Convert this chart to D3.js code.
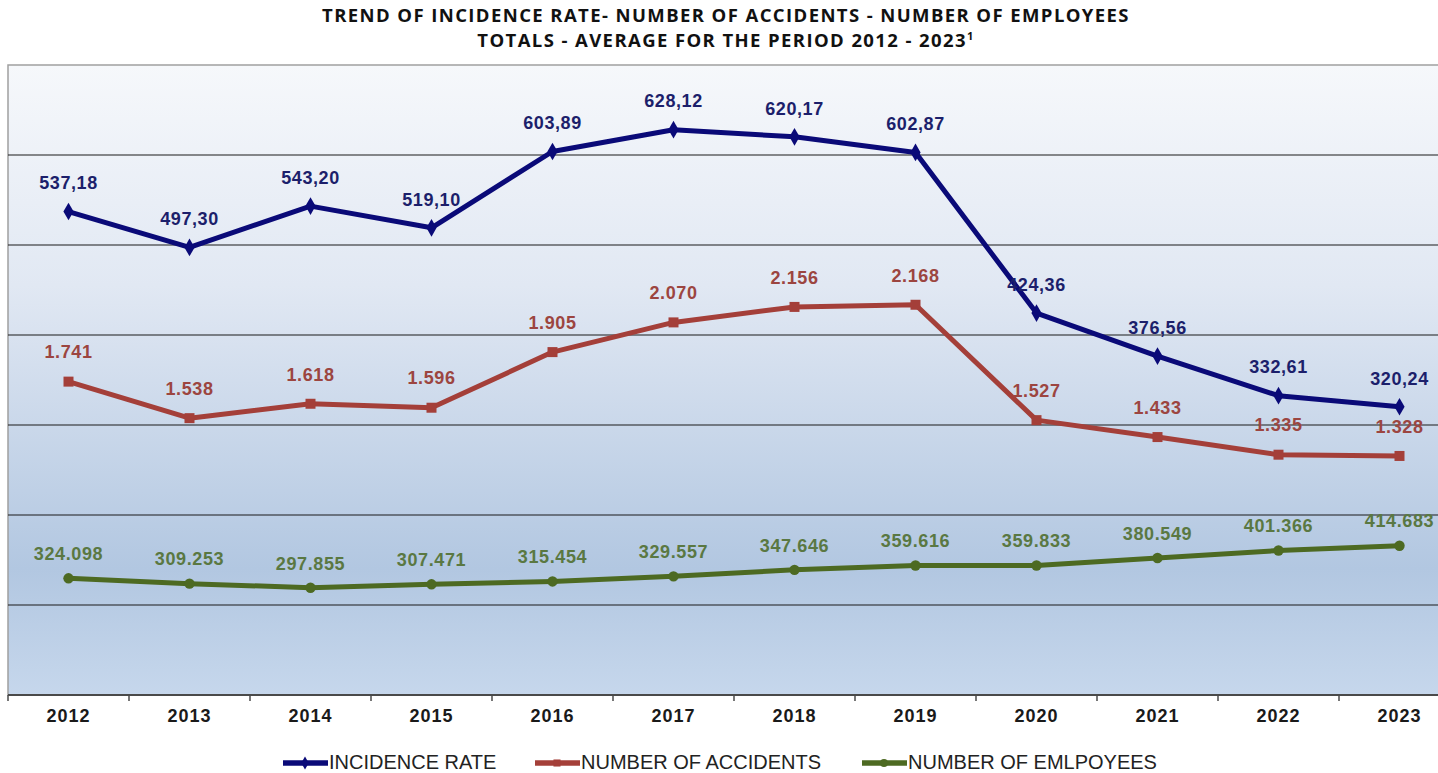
<!DOCTYPE html>
<html>
<head>
<meta charset="utf-8">
<script src="https://cdn.jsdelivr.net/npm/d3@7"></script>
<style>
  html, body { margin: 0; padding: 0; background: #ffffff; overflow: hidden; }
  svg { display: block; }
</style>
</head>
<body>
<svg id="chart" width="1438" height="773"></svg>
<script>
// ---- Data ----
const years = ["2012","2013","2014","2015","2016","2017","2018","2019","2020","2021","2022","2023"];
const incidenceRate = [537.18, 497.30, 543.20, 519.10, 603.89, 628.12, 620.17, 602.87, 424.36, 376.56, 332.61, 320.24];
const accidents = [1741, 1538, 1618, 1596, 1905, 2070, 2156, 2168, 1527, 1433, 1335, 1328];
const employees = [324098, 309253, 297855, 307471, 315454, 329557, 347646, 359616, 359833, 380549, 401366, 414683];
const gridValues = [100, 200, 300, 400, 500, 600];
const titleLines = ["TREND OF INCIDENCE RATE- NUMBER OF ACCIDENTS - NUMBER OF EMPLOYEES", "TOTALS - AVERAGE FOR THE PERIOD 2012 - 2023"];
const legendLabels = ["INCIDENCE RATE", "NUMBER OF ACCIDENTS", "NUMBER OF EMLPOYEES"];

// ---- Layout ----
const svg = d3.select("#chart");
const plot = { left: 8, right: 1460, top: 65, bottom: 695 };

const x = d3.scaleBand().domain(years).range([plot.left, plot.right]);
const xc = d => x(d) + x.bandwidth() / 2;
const yRate = d3.scaleLinear().domain([0, 700]).range([plot.bottom, plot.top]);
const yAcc = d3.scaleLinear().domain([0, 3500]).range([plot.bottom, plot.top]);
const yEmp = d3.scaleLinear().domain([0, 1750000]).range([plot.bottom, plot.top]);

// gradient background
const defs = svg.append("defs");
const grad = defs.append("linearGradient").attr("id", "bg").attr("x1", 0).attr("y1", 0).attr("x2", 0).attr("y2", 1);
grad.append("stop").attr("offset", "0%").attr("stop-color", "#f6f8fb");
grad.append("stop").attr("offset", "35%").attr("stop-color", "#e1e8f3");
grad.append("stop").attr("offset", "80%").attr("stop-color", "#b2c7e1");
grad.append("stop").attr("offset", "100%").attr("stop-color", "#c6d7ec");

svg.append("rect")
  .attr("x", plot.left).attr("y", plot.top)
  .attr("width", plot.right - plot.left).attr("height", plot.bottom - plot.top)
  .attr("fill", "url(#bg)")
  .attr("stroke", "#a0a0a0").attr("stroke-width", 1.5);

// gridlines
svg.append("g").selectAll("line").data(gridValues).join("line")
  .attr("x1", plot.left).attr("x2", plot.right)
  .attr("y1", d => yRate(d)).attr("y2", d => yRate(d))
  .attr("stroke", "#1a1a1a").attr("stroke-width", 1.2);

// x axis
const xAxis = svg.append("g").attr("transform", `translate(0,${plot.bottom})`);
xAxis.append("line").attr("x1", plot.left).attr("x2", plot.right).attr("y1", 0).attr("y2", 0)
  .attr("stroke", "#4a4a4a").attr("stroke-width", 2);
xAxis.selectAll("line.tick").data(years).join("line").attr("class", "tick")
  .attr("x1", d => x(d)).attr("x2", d => x(d)).attr("y1", 0).attr("y2", 6)
  .attr("stroke", "#4a4a4a").attr("stroke-width", 1.5);
xAxis.selectAll("text").data(years).join("text")
  .attr("x", d => xc(d)).attr("y", 27)
  .attr("text-anchor", "middle")
  .attr("font-family", "Liberation Sans, Arial, sans-serif")
  .attr("font-weight", "bold").attr("font-size", 18).attr("letter-spacing", 1).attr("fill", "#1a1a1a")
  .text(d => d);

// title
const title = svg.append("g").attr("font-family", "Open Sans, sans-serif").attr("font-weight", "bold").attr("fill", "#111")
  .attr("font-size", 18.5).attr("letter-spacing", 1.4);
title.append("text").attr("x", 726).attr("y", 22).attr("text-anchor", "middle").text(titleLines[0]);
const t2 = title.append("text").attr("x", 726).attr("y", 47).attr("text-anchor", "middle");
t2.append("tspan").text(titleLines[1]);
t2.append("tspan").attr("font-size", 11).attr("dy", -7).text("1");

// series
const series = [
  { name: legendLabels[0], values: incidenceRate, y: yRate, color: "#0a0a78", labelColor: "#1c1f6b", marker: "diamond", fmt: v => d3.format(".2f")(v).replace(".", ","), dy: -27 },
  { name: legendLabels[1], values: accidents, y: yAcc, color: "#a43f39", labelColor: "#9c4540", marker: "square", fmt: v => d3.format(",")(v).replace(/,/g, "."), dy: -28 },
  { name: legendLabels[2], values: employees, y: yEmp, color: "#4d6a22", labelColor: "#5a7842", marker: "circle", fmt: v => d3.format(",")(v).replace(/,/g, "."), dy: -23 }
];

const symbolFor = m => m === "diamond" ? d3.symbol().type(d3.symbolDiamond).size(90)
  : m === "square" ? d3.symbol().type(d3.symbolSquare).size(100)
  : d3.symbol().type(d3.symbolCircle).size(85);

series.forEach(s => {
  const pts = years.map((yr, i) => ({ yr, v: s.values[i] }));
  const line = d3.line().x(d => xc(d.yr)).y(d => s.y(d.v));
  svg.append("path").datum(pts).attr("d", line)
    .attr("fill", "none").attr("stroke", s.color).attr("stroke-width", 5)
    .attr("stroke-linejoin", "round");
  svg.append("g").selectAll("path").data(pts).join("path")
    .attr("d", symbolFor(s.marker))
    .attr("transform", d => `translate(${xc(d.yr)},${s.y(d.v)})`)
    .attr("fill", s.color);
  svg.append("g").selectAll("text").data(pts).join("text")
    .attr("x", d => xc(d.yr)).attr("y", d => s.y(d.v) + s.dy)
    .attr("text-anchor", "middle").attr("dominant-baseline", "middle")
    .attr("font-family", "Liberation Sans, Arial, sans-serif")
    .attr("font-weight", "bold").attr("font-size", 18).attr("letter-spacing", 0.6)
    .attr("fill", s.labelColor)
    .text(d => s.fmt(d.v));
});

// legend
const legendX = [283, 535, 862];
const legend = svg.append("g");
series.forEach((s, i) => {
  const g = legend.append("g").attr("transform", `translate(${legendX[i]},763)`);
  g.append("line").attr("x1", 0).attr("x2", 45).attr("y1", 0).attr("y2", 0)
    .attr("stroke", s.color).attr("stroke-width", 5.5);
  g.append("path").attr("d", symbolFor(s.marker).size(50)()).attr("transform", "translate(22,0)").attr("fill", s.color);
  g.append("text").attr("x", 46).attr("y", 1).attr("dominant-baseline", "middle")
    .attr("font-family", "Liberation Sans, Arial, sans-serif").attr("font-size", 20).attr("fill", "#222")
    .text(s.name);
});
</script>
</body>
</html>
